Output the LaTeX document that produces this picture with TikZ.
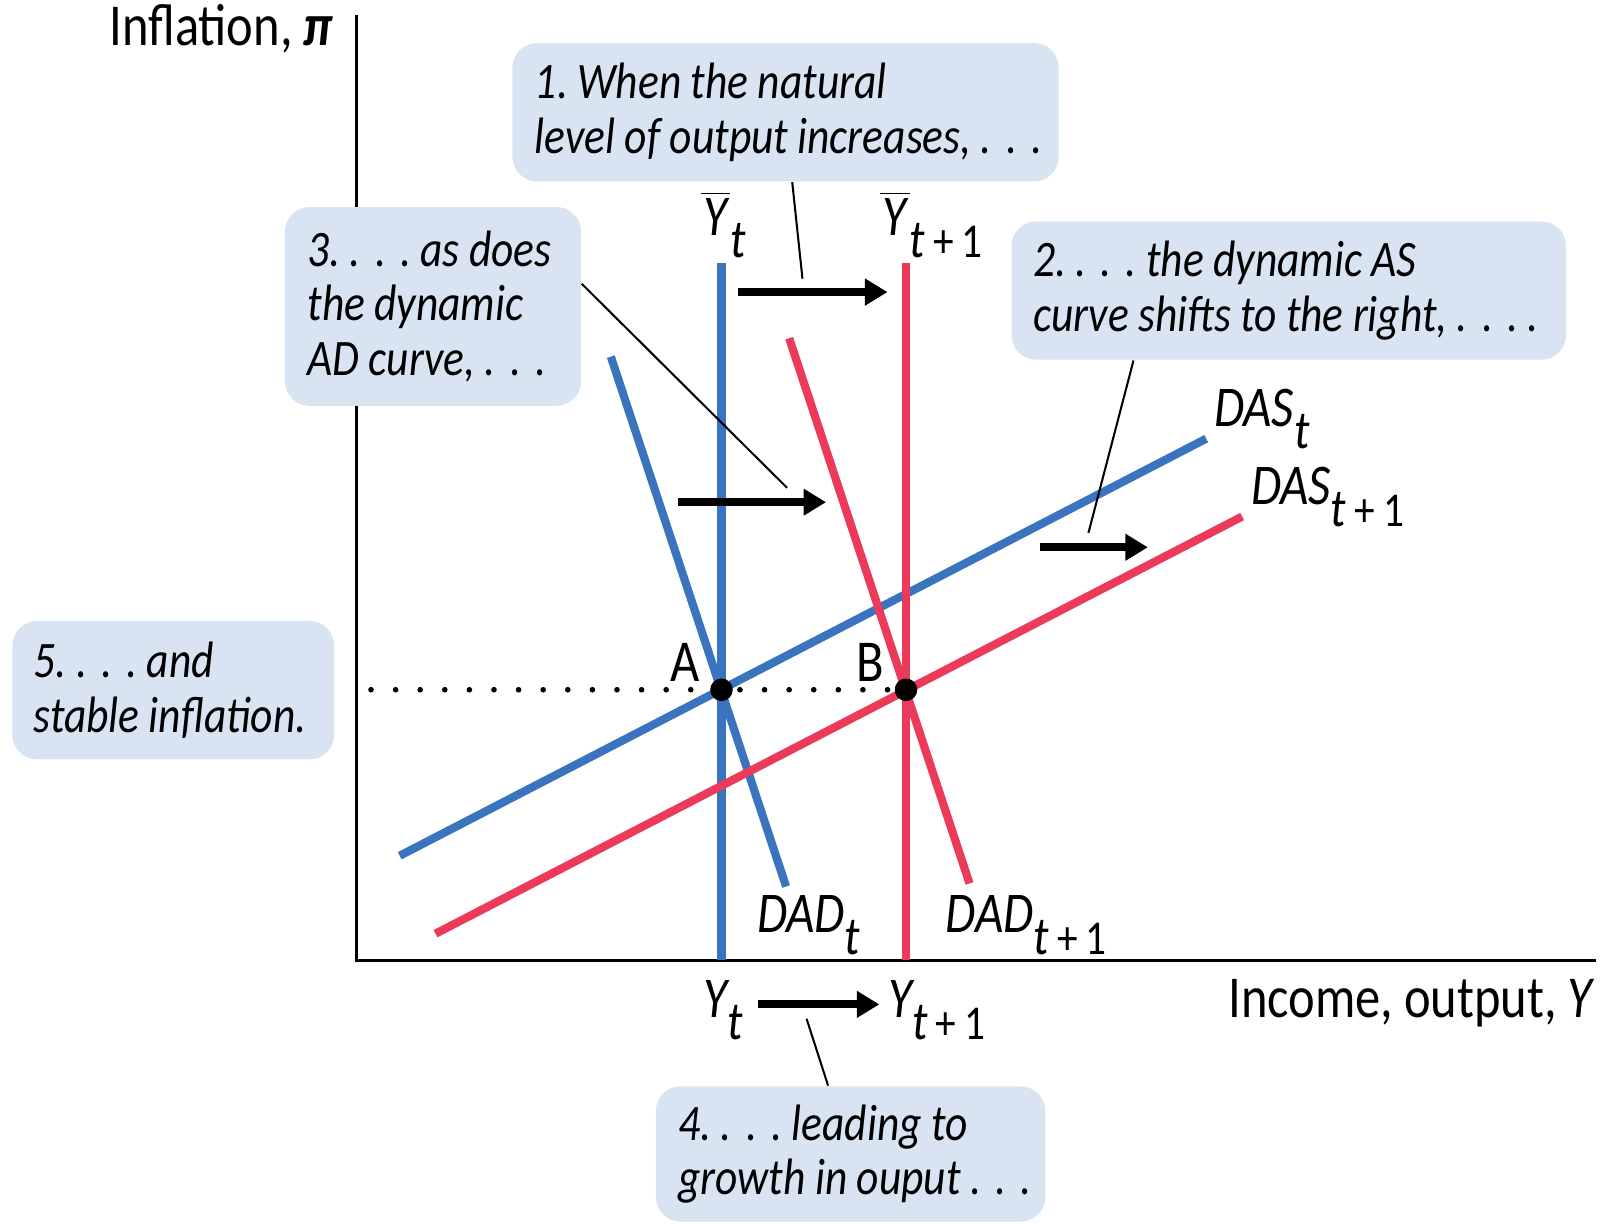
\documentclass[tikz,border=0pt]{standalone}
\usepackage{fontspec}
\setmainfont{Carlito}[FakeStretch=0.85, WordSpace=0.95]
\usetikzlibrary{arrows.meta}
\frenchspacing

\definecolor{curveblue}{RGB}{58,116,190}
\definecolor{curvered}{RGB}{236,58,90}
\definecolor{notefill}{RGB}{217,228,243}

\newcommand{\ybar}{$\overline{\mbox{\itshape\kern0.05em Y\kern0.05em}}$}
\newcommand{\lowidx}[1]{\raisebox{-0.8ex}{\fontsize{15}{17}\selectfont #1}}
\newcommand{\nextidx}{\lowidx{t\upshape\fontsize{13.5}{15}\selectfont\,+\,1}}
\newcommand{\sdots}{.\kern0.28em.\kern0.28em.}

\begin{document}
\begin{tikzpicture}[
    x=0.1mm, y=-0.1mm,
    >={Triangle[length=2.2mm,width=2.5mm]},
    % Define styles
    notebox/.style={rectangle, rounded corners=2.4mm, fill=notefill, inner sep=0pt},
    notetext/.style={anchor=west, inner sep=0pt, align=left, font=\fontsize{14.2}{15.1}\selectfont\itshape},
    axis/.style={line width=0.25mm, black},
    blueline/.style={line width=0.8mm, draw=curveblue},
    redline/.style={line width=0.8mm, draw=curvered},
    shiftarrow/.style={->, line width=0.8mm, black},
    callout/.style={line width=0.2mm, black},
    eqpoint/.style={circle, fill=black, inner sep=0pt, minimum size=2.2mm},
    curvelabel/.style={inner sep=0pt, font=\fontsize{16}{18}\selectfont\itshape},
    axislabel/.style={inner sep=0pt, font=\fontsize{16.5}{19}\selectfont}
]
\useasboundingbox (0,0) rectangle (1568,1194);

% 1. Axes
\coordinate (origin) at (348,937);
\coordinate (ytop) at (348,15);
\coordinate (xend) at (1557,937);
\draw[axis] (ytop) -- (origin) -- (xend);
\node[axislabel, anchor=base east] (ylab) at (326,44) {Inflation, \textbf{\textit{π}}};
\node[axislabel, anchor=base east] (xlab) at (1557,993) {Income, output, \textit{Y}};

% 2. Curves
\coordinate (ybt1) at (704,257);  \coordinate (ybt2) at (704,937);
\coordinate (ybn1) at (884,257);  \coordinate (ybn2) at (884,937);
\coordinate (dadt1) at (596,348); \coordinate (dadt2) at (767,865);
\coordinate (dadn1) at (770,330); \coordinate (dadn2) at (946,862);
\coordinate (dast1) at (390,835); \coordinate (dast2) at (1177,428);
\coordinate (dasn1) at (425,911); \coordinate (dasn2) at (1212,504);

\draw[blueline] (ybt1) -- (ybt2);
\draw[blueline] (dadt1) -- (dadt2);
\draw[blueline] (dast1) -- (dast2);
\draw[redline] (ybn1) -- (ybn2);
\draw[redline] (dadn1) -- (dadn2);
\draw[redline] (dasn1) -- (dasn2);

% Curve labels
\node[curvelabel, anchor=base west] (ybtlab) at (683,230) {\ybar\lowidx{t}};
\node[curvelabel, anchor=base west] (ybnlab) at (858,230) {\ybar\nextidx};
\node[curvelabel, anchor=base west] (dadtlab) at (738,910) {DAD\lowidx{t}};
\node[curvelabel, anchor=base west] (dadnlab) at (922,910) {DAD\nextidx};
\node[curvelabel, anchor=base west] (dastlab) at (1184,416) {DAS\lowidx{t}};
\node[curvelabel, anchor=base west] (dasnlab) at (1220,492) {DAS\nextidx};
\node[curvelabel, anchor=base west] (ytlab) at (686,993) {Y\lowidx{t}};
\node[curvelabel, anchor=base west] (ynlab) at (866,993) {Y\nextidx};

% 3. Equilibria
\node[eqpoint] (A) at (704,673) {};
\node[eqpoint] (B) at (884,673) {};
\node[axislabel, anchor=base west] (Alab) at (654,665) {A};
\node[axislabel, anchor=base west] (Blab) at (835,665) {B};
\coordinate (dotstart) at (362,673);
\draw[line width=0.55mm, line cap=round, dash pattern=on 0pt off 2.4mm] (dotstart) -- (B.west);

% 4. Shift arrows
\coordinate (sh1a) at (720,285);  \coordinate (sh1b) at (866,285);
\coordinate (sh3a) at (662,490);  \coordinate (sh3b) at (806,490);
\coordinate (sh2a) at (1015,534); \coordinate (sh2b) at (1120,534);
\coordinate (sh4a) at (740,980);  \coordinate (sh4b) at (858,980);
\draw[shiftarrow] (sh1a) -- (sh1b);
\draw[shiftarrow] (sh3a) -- (sh3b);
\draw[shiftarrow] (sh2a) -- (sh2b);
\draw[shiftarrow] (sh4a) -- (sh4b);

% 5. Notes
\node[notebox, minimum width=53.3mm, minimum height=13.5mm] (box1) at (766.5,109.5) {};
\node[notetext] (note1) at ([xshift=2.2mm]box1.west) {1. When the natural\\level of output increases, \sdots};
\node[notebox, minimum width=28.9mm, minimum height=19.4mm] (box3) at (422.5,299) {};
\node[notetext] (note3) at ([xshift=2.2mm]box3.west) {3. \sdots{} as does\\the dynamic\\AD curve, \sdots};
\node[notebox, minimum width=54.1mm, minimum height=13.5mm] (box2) at (1257.5,283.5) {};
\node[notetext] (note2) at ([xshift=2.1mm]box2.west) {2. \sdots{} the dynamic AS\\curve shifts to the right, \sdots{} .};
\node[notebox, minimum width=31.4mm, minimum height=13.5mm] (box5) at (169,673.5) {};
\node[notetext] (note5) at ([xshift=2.1mm]box5.west) {5. \sdots{} and\\stable inflation.};
\node[notebox, minimum width=38mm, minimum height=13.2mm] (box4) at (830,1126) {};
\node[notetext] (note4) at ([xshift=2.2mm]box4.west) {4. \sdots{} leading to\\growth in ouput \sdots};

% Callout lines
\coordinate (tip1) at (783,272);
\coordinate (tip3) at (768,476);
\coordinate (tip2) at (1062,520);
\coordinate (tip4) at (787,994);
\draw[callout] ([xshift=0.65mm]box1.south) -- (tip1);
\draw[callout] ([yshift=2.2mm]box3.east) -- (tip3);
\draw[callout] ([xshift=-15.15mm]box2.south) -- (tip2);
\draw[callout] ([xshift=-2.2mm]box4.north) -- (tip4);

\end{tikzpicture}
\end{document}
